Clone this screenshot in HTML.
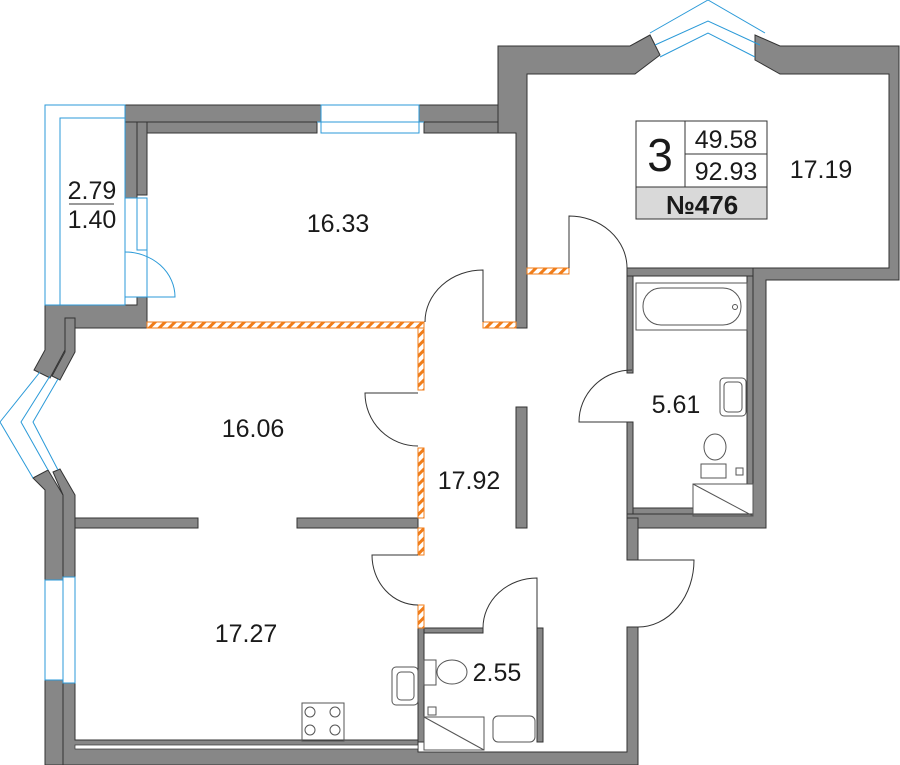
<!DOCTYPE html>
<html><head><meta charset="utf-8"><style>
html,body{margin:0;padding:0;background:#fff}
svg{display:block}
text{font-family:"Liberation Sans Narrow","Liberation Sans",sans-serif;fill:#1a1a1a}
</style></head><body>
<svg width="900" height="765" viewBox="0 0 900 765" xmlns="http://www.w3.org/2000/svg">
<defs>
<pattern id="h" width="7" height="7" patternUnits="userSpaceOnUse" patternTransform="rotate(45)">
<rect width="7" height="7" fill="#fff"/><rect width="3" height="7" fill="#f07d1a"/></pattern>
</defs>
<g fill="#878787" stroke="#333" stroke-width="1">
<rect x="125" y="105" width="196" height="17"/>
<rect x="137" y="122" width="180" height="11"/>
<rect x="419" y="105" width="97" height="17"/>
<rect x="424" y="122" width="92" height="11"/>
<rect x="125" y="122" width="12" height="76"/>
<rect x="137" y="122" width="10" height="73"/>
<!-- upper-left corner walls -->
<path d="M125 297 H137 V305 H45 Z" fill="none" stroke="none"/>
<path d="M45 305 H137 V297 H147 V328 H75 V318 H65 V350 L50 378 L34 370 L45 350 Z"/>
<path d="M65 318 H75 V352 L60 380 L52 376 L65 352 Z"/>
<!-- lower-left walls -->
<path d="M33 478 L48 470 L63 495 V580 H45 V490 Z"/>
<path d="M53 472 L60 469 L75 495 V577 H63 V495 Z"/>
<rect x="45" y="680" width="18" height="85"/>
<path d="M63 683 H75 V740 H418 V752 H627 V627 H638 V765 H63 Z"/>
<!-- 17.19 room walls -->
<path d="M498 105 V46 H630 L650 35 L660 55 L635 74 H527 V328 H516 V133 H498 Z"/>
<path d="M755 35 L780 46 H899 V280 H766 V528 H627 V514 H753 V268 H889 V74 H780 L755 60 Z"/>
<rect x="627" y="268" width="126" height="8"/>
<rect x="627" y="276" width="6" height="97"/>
<rect x="627" y="422" width="6" height="92"/>
<rect x="633" y="508" width="60" height="6"/>
<rect x="747" y="276" width="6" height="208"/>
<!-- partitions -->
<rect x="75" y="518" width="123" height="10"/>
<rect x="297" y="518" width="121" height="10"/>
<rect x="516" y="407" width="11" height="121"/>
<rect x="627" y="518" width="11" height="42"/>
<rect x="418" y="628" width="6" height="114"/>
<rect x="424" y="628" width="59" height="5"/>
<rect x="537" y="628" width="6" height="114"/>
</g>
<rect x="75" y="745" width="343" height="4" fill="#fff" stroke="#333" stroke-width="0.7"/>
<g fill="url(#h)" stroke="#f07d1a" stroke-width="1">
<rect x="147" y="322" width="277" height="6"/>
<rect x="418" y="328" width="6" height="62"/>
<rect x="418" y="448" width="6" height="70"/>
<rect x="418" y="528" width="6" height="27"/>
<rect x="418" y="605" width="6" height="23"/>
<rect x="483" y="322" width="33" height="6"/>
<rect x="527" y="268" width="42" height="6"/>
</g>
<g fill="none" stroke="#2b9ad8" stroke-width="1">
<rect x="45" y="105" width="80" height="200"/>
<polyline points="60,305 60,118 125,118"/>
<rect x="321" y="105" width="98" height="28"/><line x1="317" y1="122" x2="424" y2="122"/>
<polyline points="125,198 147,198 147,297"/><polyline points="137,198 137,250 147,250"/>
<path d="M125 252 A50 45 0 0 1 175 297 H125"/>
<rect x="45" y="580" width="18" height="100"/><rect x="63" y="577" width="12" height="106"/>
<polyline points="650,33 708,0 765,33"/><polyline points="655,45 708,21 760,45"/><polyline points="660,57 708,33 755,57"/>
<polyline points="40,372 0,422 33,478"/><polyline points="50,376 21,422 48,470"/><polyline points="58,379 33,422 58,470"/>
</g>
<g fill="none" stroke="#333" stroke-width="1">
<path d="M418 393 H365 A53 53 0 0 0 418 446"/>
<path d="M418 555 H372 A46 50 0 0 0 418 605"/>
<path d="M483 322 V270 A58 52 0 0 0 425 322"/>
<path d="M569 268 V216 A58 52 0 0 1 627 268"/>
<path d="M632 422 H579 A53 52 0 0 1 632 370"/>
<path d="M638 560 H694 A56 67 0 0 1 638 627"/>
<path d="M537 628 V578 A54 50 0 0 0 483 628"/>
</g>
<g fill="none" stroke="#555" stroke-width="1">
<rect x="636" y="283" width="111" height="47"/>
<rect x="643" y="288" width="98" height="37" rx="18"/>
<circle cx="735" cy="307" r="2.5"/>
<rect x="720" y="378" width="26" height="38" rx="4"/><rect x="724" y="382" width="18" height="30" rx="4"/>
<ellipse cx="715" cy="447" rx="11" ry="13"/><rect x="701" y="464" width="25" height="14"/>
<rect x="736" y="468" width="7" height="7"/>
<rect x="693" y="484" width="60" height="32"/><line x1="693" y1="484" x2="753" y2="516"/>
<rect x="302" y="703" width="42" height="38"/>
<circle cx="310" cy="712" r="5"/><circle cx="335" cy="712" r="5"/><circle cx="310" cy="730" r="5"/><circle cx="335" cy="730" r="5"/>
<rect x="392" y="667" width="26" height="38" rx="4"/><rect x="397" y="672" width="17" height="28" rx="4"/>
<rect x="424" y="660" width="12" height="25"/><ellipse cx="452" cy="672" rx="15" ry="12"/>
<rect x="428" y="707" width="8" height="8"/>
<rect x="424" y="717" width="60" height="33"/><line x1="424" y1="717" x2="484" y2="750"/>
<rect x="493" y="716" width="42" height="26" rx="5"/>
</g>
<rect x="636" y="121" width="131" height="98" fill="#fff" stroke="#333"/>
<rect x="636" y="187" width="131" height="32" fill="#d9d9d9" stroke="#333"/>
<line x1="685" y1="121" x2="685" y2="187" stroke="#333"/>
<line x1="685" y1="154" x2="767" y2="154" stroke="#333"/>
<text x="660" y="171" font-size="46" text-anchor="middle">3</text>
<text x="726" y="148" font-size="25" text-anchor="middle">49.58</text>
<text x="726" y="180" font-size="25" text-anchor="middle">92.93</text>
<text x="702" y="214" font-size="26" font-weight="bold" text-anchor="middle" style="font-family:'Liberation Sans',sans-serif">№476</text>
<g font-size="25" text-anchor="middle">
<text x="92" y="199">2.79</text>
<line x1="69" y1="204" x2="114" y2="204" stroke="#333"/>
<text x="92" y="228">1.40</text>
<text x="338" y="232">16.33</text>
<text x="821" y="178">17.19</text>
<text x="253" y="437">16.06</text>
<text x="469" y="489">17.92</text>
<text x="676" y="413">5.61</text>
<text x="246" y="642">17.27</text>
<text x="497" y="681">2.55</text>
</g>
</svg>
</body></html>
